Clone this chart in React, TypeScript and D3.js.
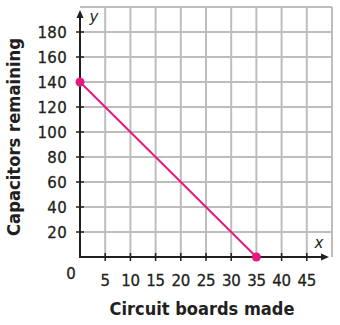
import React from "react";
import * as d3 from "d3";

const xTicks = [5, 10, 15, 20, 25, 30, 35, 40, 45];
const yTicks = [20, 40, 60, 80, 100, 120, 140, 160, 180];
const xGrid = [5, 10, 15, 20, 25, 30, 35, 40, 45, 50];
const yGrid = [20, 40, 60, 80, 100, 120, 140, 160, 180, 200];
const boards = [0, 35];
const capacitors = [140, 0];
const xTitle = "Circuit boards made";
const yTitle = "Capacitors remaining";

export default function App() {
  const W = 340, H = 325;
  const x = d3.scaleLinear().domain([0, 50]).range([80, 332]);
  const y = d3.scaleLinear().domain([0, 200]).range([257, 7]);
  const pts: [number, number][] = boards.map((b, i) => [b, capacitors[i]]);
  const line = d3.line<[number, number]>().x(d => x(d[0])).y(d => y(d[1]));
  const pink = "#e6197f";
  const ink = "#231f20";
  const font = "'DejaVu Sans', sans-serif";
  return (
    <svg width={W} height={H} style={{ position: "absolute", left: 0, top: 0, background: "#fff" }}>
      {/* grid */}
      {xGrid.map(v => (
        <line key={"gx" + v} x1={x(v)} x2={x(v)} y1={y(0)} y2={y(200)} stroke="#bdbdbd" strokeWidth={2} />
      ))}
      {yGrid.map(v => (
        <line key={"gy" + v} x1={x(0)} x2={x(50)} y1={y(v)} y2={y(v)} stroke="#bdbdbd" strokeWidth={2} />
      ))}
      {/* axes */}
      <line x1={x(0)} x2={x(0)} y1={y(0) + 1} y2={y(200) + 6} stroke={ink} strokeWidth={2} />
      <path d={`M${x(0)},${y(200) + 3} l-3.5,8 l7,0 z`} fill={ink} />
      <line x1={x(0) - 1} x2={x(50) - 6} y1={y(0)} y2={y(0)} stroke={ink} strokeWidth={2} />
      <path d={`M${x(50) - 3},${y(0)} l-8,-3.5 l0,7 z`} fill={ink} />
      {/* ticks */}
      {xGrid.slice(0, 9).map(v => (
        <line key={"tx" + v} x1={x(v)} x2={x(v)} y1={y(0) - 4} y2={y(0) + 4} stroke={ink} strokeWidth={1.5} />
      ))}
      {yGrid.slice(0, 9).map(v => (
        <line key={"ty" + v} x1={x(0) - 4} x2={x(0) + 4} y1={y(v)} y2={y(v)} stroke={ink} strokeWidth={1.5} />
      ))}
      {/* tick labels */}
      {yTicks.map(v => (
        <text key={"ly" + v} x={67} y={y(v) + 5.5} textAnchor="end" fontFamily={font} fontSize={15} letterSpacing={0.3} stroke={ink} strokeWidth={0.3} fill={ink}>
          {v}
        </text>
      ))}
      {xTicks.map(v => (
        <text key={"lx" + v} x={x(v)} y={285.5} textAnchor="middle" fontFamily={font} fontSize={15} letterSpacing={-0.3} stroke={ink} strokeWidth={0.3} fill={ink}>
          {v}
        </text>
      ))}
      <text x={71} y={278.5} textAnchor="middle" fontFamily={font} fontSize={15} stroke={ink} strokeWidth={0.3} fill={ink}>0</text>
      {/* axis letters */}
      <text x={319} y={248} textAnchor="middle" fontFamily={font} fontStyle="italic" fontSize={15} fill={ink}>x</text>
      <text x={94} y={22} textAnchor="middle" fontFamily={font} fontStyle="italic" fontSize={15} fill={ink}>y</text>
      {/* titles */}
      <text x={202} y={315} textAnchor="middle" fontFamily={font} fontWeight="bold" fontSize={17} fill={ink}
        textLength={185} lengthAdjust="spacingAndGlyphs">{xTitle}</text>
      <text transform={`translate(20,137) rotate(-90)`} textAnchor="middle" fontFamily={font} fontWeight="bold" fontSize={17} fill={ink}
        textLength={198} lengthAdjust="spacingAndGlyphs">{yTitle}</text>
      {/* data */}
      <path d={line(pts) || ""} fill="none" stroke={pink} strokeWidth={2} />
      {pts.map((p, i) => (
        <circle key={"pt" + i} cx={x(p[0])} cy={y(p[1])} r={4.5} fill={pink} />
      ))}
    </svg>
  );
}
